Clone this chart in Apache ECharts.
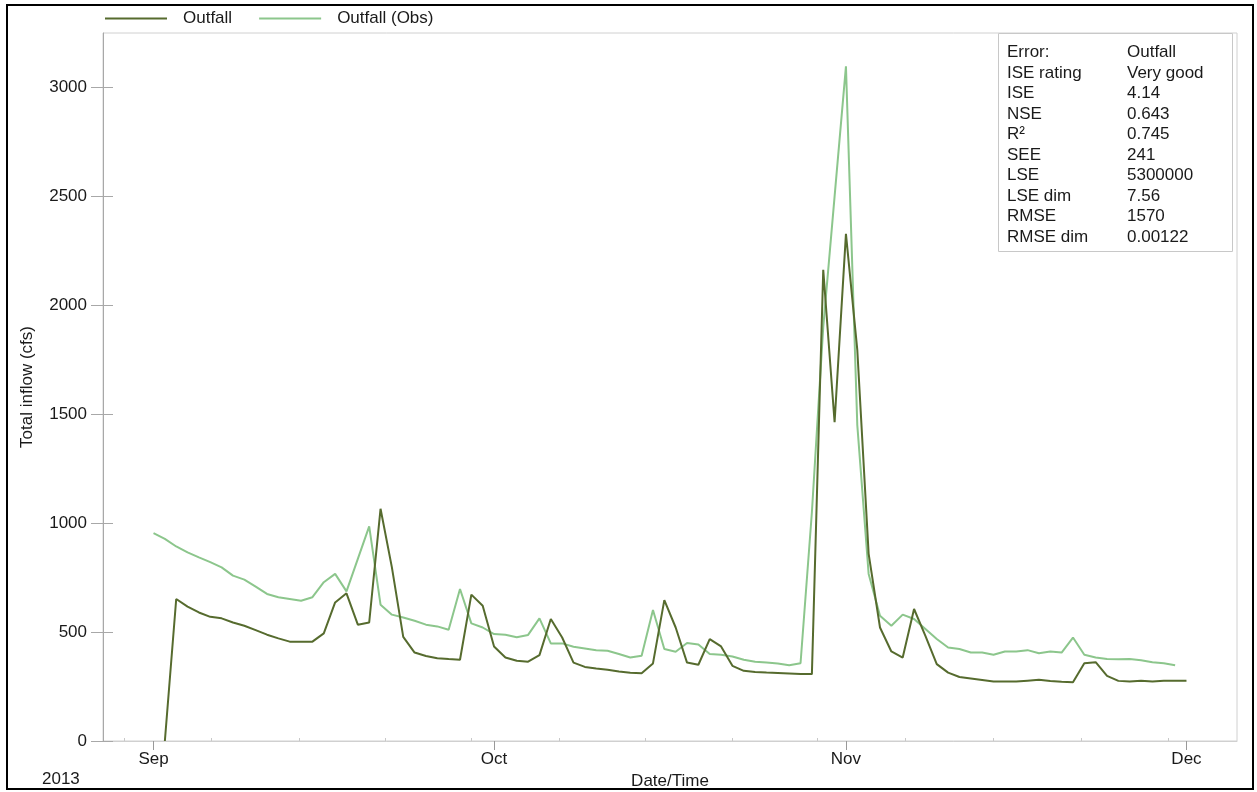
<!DOCTYPE html>
<html><head><meta charset="utf-8">
<script src="https://cdn.jsdelivr.net/npm/echarts@6/dist/echarts.min.js"></script>
<style>html,body{margin:0;padding:0;background:#fff}#c{width:1257px;height:792px}</style>
</head><body><div id="c"></div>
<script>
// Day index 0 = 2013-09-01 (daily values)
const startDate = '2013-09-01';
const yearLabel = '2013';
const monthTickDays = [0, 30, 61, 91];
const monthTickLabels = ['Sep', 'Oct', 'Nov', 'Dec'];
const minorTickDays = [-2.6, 5.1, 12.8, 20.4, 28.0, 35.7, 43.3, 51.0, 58.5, 66.2, 74.0, 81.7, 89.4];
const yTickValues = [0, 500, 1000, 1500, 2000, 2500, 3000];

const outfall = [
  null, 0, 652, 617, 590, 570, 563, 544, 529, 509,
  488, 471, 456, 456, 456, 494, 636, 678, 534, 544,
  1066, 797, 478, 406, 390, 380, 376, 373, 672, 621,
  434, 383, 368, 364, 394, 560, 475, 360, 340, 333,
  327, 319, 313, 311, 356, 647, 521, 360, 350, 468,
  434, 345, 322, 317, 314, 312, 310, 308, 307, 2163,
  1463, 2328, 1795, 859, 521, 411, 383, 606, 483, 353,
  314, 294, 287, 280, 273, 273, 273, 277, 281, 275,
  272, 270, 357, 362, 299, 276, 273, 277, 273, 277,
  276, 277
];
const outfallObs = [
  954, 928, 893, 866, 843, 821, 797, 759, 741, 709,
  675, 660, 652, 644, 660, 729, 767, 687, 836, 985,
  626, 580, 567, 552, 534, 526, 511, 698, 540, 521,
  491, 488, 476, 487, 563, 448, 448, 433, 425, 417,
  414, 399, 383, 391, 601, 422, 410, 450, 443, 399,
  396, 388, 373, 364, 360, 356, 348, 357, 1050, 1900,
  2500, 3097, 1450, 767, 575, 529, 580, 560, 514, 468,
  429, 422, 406, 406, 396, 411, 411, 417, 403, 411,
  406, 475, 396, 383, 376, 375, 376, 371, 362, 357,
  348
];
const statLabels = ['Error:', 'ISE rating', 'ISE', 'NSE', 'R\u00b2', 'SEE', 'LSE', 'LSE dim', 'RMSE', 'RMSE dim'];
const statValues = ['Outfall', 'Very good', '4.14', '0.643', '0.745', '241', '5300000', '7.56', '1570', '0.00122'];

const FONT = '"Liberation Sans", Arial, sans-serif';
const FS = 17;
const TXT = '#1a1a1a';
const xMin = -4.45, xMax = 95.45;

const toPts = arr => arr.map((v, i) => [i, v]);

const chart = echarts.init(document.getElementById('c'), null, {renderer: 'canvas'});

const graphics = [
  {type: 'rect', shape: {x: 7, y: 5, width: 1246, height: 784}, style: {fill: 'none', stroke: '#000', lineWidth: 2}, z: 10},
  {type: 'rect', shape: {x: 998.5, y: 33.5, width: 234, height: 218}, style: {fill: '#fff', stroke: '#c8c8c8', lineWidth: 1}, z: 5},
  {type: 'text', left: 42, top: 771, style: {text: yearLabel, fontSize: FS, fontFamily: FONT, fill: TXT}, z: 6}
];
statLabels.forEach((s, i) => {
  graphics.push({type: 'text', left: 1007, top: 44 + i * 20.5, z: 7,
    style: {text: s, fontSize: FS, fontFamily: FONT, fill: TXT}});
  graphics.push({type: 'text', left: 1127, top: 44 + i * 20.5, z: 7,
    style: {text: statValues[i], fontSize: FS, fontFamily: FONT, fill: TXT}});
});

const grid = {left: 103, top: 33, right: 20, bottom: 51, outerBoundsMode: 'none', containLabel: false};

chart.setOption({
  animation: false,
  backgroundColor: '#fff',
  textStyle: {fontFamily: FONT},
  legend: {
    left: 105, top: 10, padding: 0, itemWidth: 62, itemHeight: 2, itemGap: 27, icon: 'rect',
    textStyle: {fontSize: FS, color: TXT, fontFamily: FONT, padding: [0, 0, 0, 11]},
    data: ['Outfall', 'Outfall (Obs)']
  },
  grid: [
    Object.assign({show: true, borderColor: '#d0d0d0', borderWidth: 1}, grid),
    Object.assign({show: false}, grid)
  ],
  xAxis: [{
    type: 'value', gridIndex: 0, min: xMin, max: xMax,
    name: 'Date/Time', nameLocation: 'middle', nameGap: 30,
    nameTextStyle: {fontSize: FS, color: TXT, fontFamily: FONT},
    axisLine: {show: true, onZero: false, lineStyle: {color: '#d0d0d0', width: 1}},
    axisTick: {show: true, length: 9, lineStyle: {color: '#999'}, customValues: monthTickDays},
    axisLabel: {show: true, margin: 10, fontSize: FS, color: TXT, fontFamily: FONT,
      customValues: monthTickDays,
      formatter: v => { const k = monthTickDays.indexOf(v); return k >= 0 ? monthTickLabels[k] : ''; }},
    splitLine: {show: false}
  }, {
    type: 'value', gridIndex: 1, min: xMin, max: xMax,
    axisLine: {show: false, onZero: false},
    axisTick: {show: true, inside: true, length: 3, lineStyle: {color: '#c8c8c8'}, customValues: minorTickDays},
    axisLabel: {show: false}, splitLine: {show: false}
  }],
  yAxis: [{
    type: 'value', gridIndex: 0, min: 0, max: 3250, interval: 500,
    name: 'Total inflow (cfs)', nameLocation: 'middle', nameGap: 67, nameRotate: 90,
    nameTextStyle: {fontSize: FS, color: TXT, fontFamily: FONT},
    axisLine: {show: true, onZero: false, lineStyle: {color: '#a8a8a8', width: 1}},
    axisTick: {show: true, length: 12, lineStyle: {color: '#a8a8a8'}, customValues: yTickValues},
    axisLabel: {show: true, margin: 16, fontSize: FS, color: TXT, fontFamily: FONT, customValues: yTickValues,
      formatter: v => String(v)},
    splitLine: {show: false}
  }, {
    type: 'value', gridIndex: 1, min: 0, max: 3250, interval: 500,
    axisLine: {show: false, onZero: false},
    axisTick: {show: true, inside: true, length: 10, lineStyle: {color: '#a8a8a8'}, customValues: yTickValues},
    axisLabel: {show: false}, splitLine: {show: false}
  }],
  series: [{
    name: 'Outfall', type: 'line', xAxisIndex: 0, yAxisIndex: 0,
    data: toPts(outfall), symbol: 'none', z: 3,
    lineStyle: {color: '#566b2e', width: 2}, itemStyle: {color: '#566b2e'}
  }, {
    name: 'Outfall (Obs)', type: 'line', xAxisIndex: 0, yAxisIndex: 0,
    data: toPts(outfallObs), symbol: 'none', z: 2,
    lineStyle: {color: '#8cc68c', width: 2}, itemStyle: {color: '#8cc68c'}
  }],
  graphic: graphics
});
</script>
</body></html>
